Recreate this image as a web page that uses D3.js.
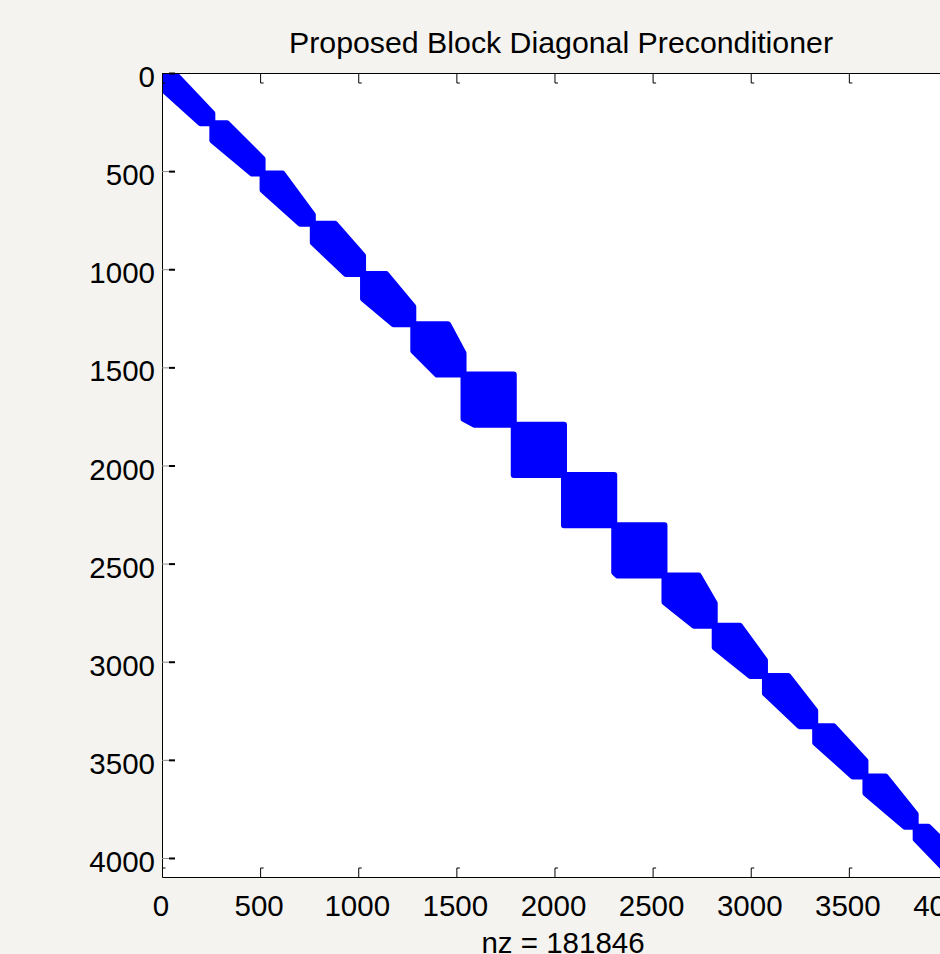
<!DOCTYPE html>
<html>
<head>
<meta charset="utf-8">
<script src="https://cdn.jsdelivr.net/npm/d3@7.9.0/dist/d3.min.js"></script>
<style>
  body { margin: 0; background: #f4f3ef; }
  text { font-family: "Liberation Sans", Arial, sans-serif; fill: #000; }
</style>
</head>
<body>
<div id="chart"></div>
<script>
// matrix / block layout
const matrixSize = 4096;
const blockSize = 256;
const nz = 181846;
const chartTitle = "Proposed Block Diagonal Preconditioner";

// extent of the band inside each diagonal block (in matrix rows/cols)
// upperTop: nonzeros along the first row of block, upperRight: along last col
// lowerLeft: along first col, lowerBottom: along last row
const upperTop    = [62, 75, 101, 113, 118, 177, 256, 256, 256, 256, 174, 128, 118, 94, 102, 64];
const upperRight  = [51, 75, 46, 93, 90, 109, 256, 256, 256, 256, 115, 80, 80, 80, 64, 70];
const lowerLeft   = [79, 87, 84, 96, 126, 135, 226, 256, 256, 240, 136, 111, 89, 84, 86, 64];
const lowerBottom = [60, 53, 64, 87, 101, 135, 199, 256, 256, 240, 106, 75, 80, 64, 55, 70];

const xTicks = [0, 500, 1000, 1500, 2000, 2500, 3000, 3500, 4000];
const yTicks = [0, 500, 1000, 1500, 2000, 2500, 3000, 3500, 4000];

const width = 940, height = 954;
const margin = { top: 73, left: 162, right: 966, bottom: 877 };

const svg = d3.select('#chart').append('svg')
  .attr('width', width)
  .attr('height', height);

svg.append('rect').attr('width', width).attr('height', height).attr('fill', '#f4f3ef');

const x = d3.scaleLinear().domain([0, matrixSize + 1]).range([margin.left, margin.right]);
const y = d3.scaleLinear().domain([0, matrixSize + 1]).range([margin.top, margin.bottom]);

svg.append('rect')
  .attr('x', margin.left).attr('y', margin.top)
  .attr('width', margin.right - margin.left)
  .attr('height', margin.bottom - margin.top)
  .attr('fill', '#fff');

svg.append('clipPath').attr('id', 'plot-clip')
  .append('rect')
  .attr('x', margin.left).attr('y', margin.top)
  .attr('width', margin.right - margin.left)
  .attr('height', margin.bottom - margin.top);

// one polygon per block: square with the corners outside the band cut off
const blocks = upperTop.map((ut, k) => {
  const s = k * blockSize + 0.5;
  const e = (k + 1) * blockSize + 0.5;
  return [
    [s, s],
    [s + ut, s],
    [e, e - upperRight[k]],
    [e, e],
    [e - lowerBottom[k], e],
    [s, s + lowerLeft[k]],
  ];
});

svg.append('g')
  .attr('clip-path', 'url(#plot-clip)')
  .selectAll('polygon')
  .data(blocks)
  .join('polygon')
  .attr('points', d => d.map(p => `${x(p[0])},${y(p[1])}`).join(' '))
  .attr('fill', '#0000ff')
  .attr('stroke', '#0000ff')
  .attr('stroke-width', 6)
  .attr('stroke-linejoin', 'round');

// axes (ticks point inward, like matlab)
const fmt = d => String(d);

const leftAxis = svg.append('g')
  .attr('transform', `translate(${margin.left},0)`)
  .call(d3.axisLeft(y).tickValues(yTicks).tickFormat(fmt).tickSize(-7).tickSizeOuter(0).tickPadding(7));
leftAxis.selectAll('.tick text').attr('dy', '0.46em').style('font-size', '29.5px');
leftAxis.selectAll('.tick line').attr('stroke', '#8a8a8a');
leftAxis.selectAll('.tick').append('line')
  .attr('x1', 7).attr('x2', 13).attr('stroke', '#000').attr('stroke-width', 2);

const bottomAxis = svg.append('g')
  .attr('transform', `translate(0,${margin.bottom})`)
  .call(d3.axisBottom(x).tickValues(xTicks).tickFormat(fmt).tickSize(-9).tickSizeOuter(0).tickPadding(18));
bottomAxis.selectAll('.tick text').attr('dx', '-1.5').style('font-size', '29.5px');
bottomAxis.selectAll('.tick').append('line')
  .attr('x1', 0).attr('x2', 3).attr('y1', -9).attr('y2', -9).attr('stroke', '#000');

const topAxis = svg.append('g')
  .attr('transform', `translate(0,${margin.top})`)
  .call(d3.axisTop(x).tickValues(xTicks).tickSize(-10).tickSizeOuter(0).tickFormat(''));
topAxis.selectAll('.tick').append('line')
  .attr('x1', 0).attr('x2', 3).attr('y1', 10).attr('y2', 10).attr('stroke', '#000');

svg.append('g')
  .attr('transform', `translate(${margin.right},0)`)
  .call(d3.axisRight(y).tickValues(yTicks).tickSize(-10).tickSizeOuter(0).tickFormat(''));

svg.selectAll('.domain').attr('stroke', '#000');
svg.selectAll('.tick text').style('font-family', '"Liberation Sans", Arial, sans-serif');

svg.append('text')
  .attr('x', 561).attr('y', 52.5)
  .attr('text-anchor', 'middle')
  .style('font-size', '30.3px')
  .text(chartTitle);

svg.append('text')
  .attr('x', 563).attr('y', 953)
  .attr('text-anchor', 'middle')
  .style('font-size', '29.5px')
  .text(`nz = ${nz}`);
</script>
</body>
</html>
